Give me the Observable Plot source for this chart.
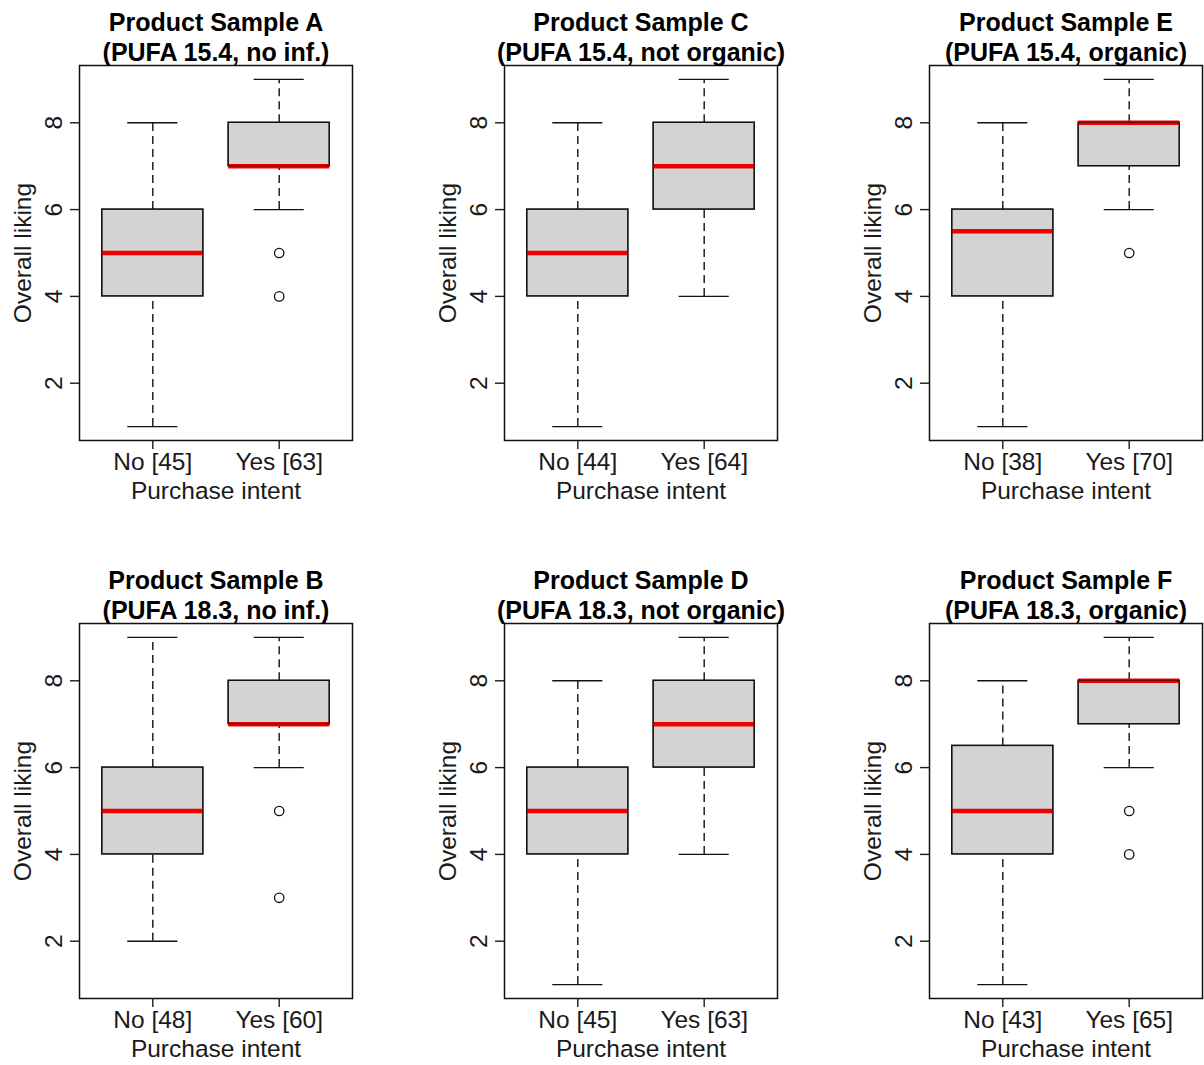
<!DOCTYPE html>
<html><head><meta charset="utf-8">
<script src="https://cdn.jsdelivr.net/npm/d3@7"></script>
<script src="https://cdn.jsdelivr.net/npm/@observablehq/plot@0.6"></script>
<style>
body{margin:0;background:#fff;}
#wrap{position:relative;width:1204px;height:1065px;overflow:hidden;background:#fff;}
.panel{position:absolute;}
</style></head><body><div id="wrap"></div>
<script>
const sampleNames = ["Product Sample A", "Product Sample C", "Product Sample E", "Product Sample B", "Product Sample D", "Product Sample F"];
const sampleDescriptions = ["(PUFA 15.4, no inf.)", "(PUFA 15.4, not organic)", "(PUFA 15.4, organic)", "(PUFA 18.3, no inf.)", "(PUFA 18.3, not organic)", "(PUFA 18.3, organic)"];
const intentGroups = ["No", "Yes"];
const noCounts = [45, 44, 38, 48, 45, 43];
const yesCounts = [63, 64, 70, 60, 63, 65];
// five-number summaries: [lower whisker, Q1, median, Q3, upper whisker]
const noStats = [[1,4,5,6,8],[1,4,5,6,8],[1,4,5.5,6,8],[2,4,5,6,9],[1,4,5,6,8],[1,4,5,6.5,8]];
const yesStats = [[6,7,7,8,9],[4,6,7,8,9],[6,7,8,8,9],[6,7,7,8,9],[4,6,7,8,9],[6,7,8,8,9]];
const noOutliers = [[],[],[],[],[],[]];
const yesOutliers = [[5,4],[],[5],[5,3],[],[5,4]];
const yLimits = [1, 9];
const yTicks = [2, 4, 6, 8];
const yLabel = "Overall liking";
const xLabel = "Purchase intent";

const FONT = "'Liberation Sans', Arial, sans-serif";
const pad = 0.04 * (yLimits[1] - yLimits[0]);

function panel(i) {
  const cats = intentGroups.map((g, j) => `${g} [${[noCounts, yesCounts][j][i]}]`);
  const stats = [noStats[i], yesStats[i]];
  const boxes = cats.map((c, j) => ({cat: c, lo: stats[j][0], q1: stats[j][1], med: stats[j][2], q3: stats[j][3], hi: stats[j][4]}));
  const outs = [noOutliers[i], yesOutliers[i]].flatMap((arr, j) => arr.map(v => ({cat: cats[j], v})));
  const lw = 1.4;
  return Plot.plot({
    width: 425, height: 532,
    marginLeft: 79, marginRight: 73, marginTop: 65, marginBottom: 92,
    x: {type: "band", domain: cats, paddingInner: 0.2, paddingOuter: 0.18, round: false},
    y: {domain: [yLimits[0] - pad, yLimits[1] + pad]},
    style: {fontFamily: FONT, color: "#1a1a1a", background: "#fff", overflow: "visible"},
    marks: [
      Plot.ruleX(boxes, {x: "cat", y1: "lo", y2: "q1", stroke: "#111", strokeWidth: lw, strokeDasharray: "8,5"}),
      Plot.ruleX(boxes, {x: "cat", y1: "q3", y2: "hi", stroke: "#111", strokeWidth: lw, strokeDasharray: "8,5"}),
      Plot.tickY(boxes, {x: "cat", y: "lo", insetLeft: 25.5, insetRight: 25.5, stroke: "#111", strokeWidth: lw}),
      Plot.tickY(boxes, {x: "cat", y: "hi", insetLeft: 25.5, insetRight: 25.5, stroke: "#111", strokeWidth: lw}),
      Plot.barY(boxes, {x: "cat", y1: "q1", y2: "q3", fill: "#d3d3d3", stroke: "#111", strokeWidth: lw}),
      Plot.tickY(boxes, {x: "cat", y: "med", stroke: "#ee0000", strokeWidth: 4.5}),
      Plot.barY(boxes, {x: "cat", y1: "q1", y2: "q3", fill: "none", stroke: "#111", strokeWidth: lw, strokeOpacity: 0.6}),
      Plot.dot(outs, {x: "cat", y: "v", r: 4.7, stroke: "#111", strokeWidth: 1.3, fill: "none"}),
      Plot.frame({stroke: "#111", strokeWidth: 1.5}),
      Plot.axisY({ticks: yTicks, tickSize: 9, tickRotate: -90, tickPadding: 9, fontSize: 24.5, strokeWidth: lw,
        label: yLabel, labelAnchor: "center", labelOffset: 66, labelArrow: "none"}),
      Plot.axisX({tickSize: 9, tickPadding: 3.5, fontSize: 24.5, strokeWidth: lw,
        label: xLabel, labelAnchor: "center", labelOffset: 58, labelArrow: "none"}),
      Plot.text([sampleNames[i] + "\n" + sampleDescriptions[i]], {text: d => d, frameAnchor: "top", dy: -5,
        lineAnchor: "bottom", lineHeight: 1.17, fontSize: 25, fontWeight: "bold", fill: "#000"})
    ]
  });
}

const wrap = document.getElementById("wrap");
sampleNames.forEach((_, i) => {
  const el = panel(i);
  el.classList.add("panel");
  el.style.left = (i % 3) * 425 + "px";
  el.style.top = Math.floor(i / 3) * 558 + "px";
  wrap.appendChild(el);
});
</script></body></html>
